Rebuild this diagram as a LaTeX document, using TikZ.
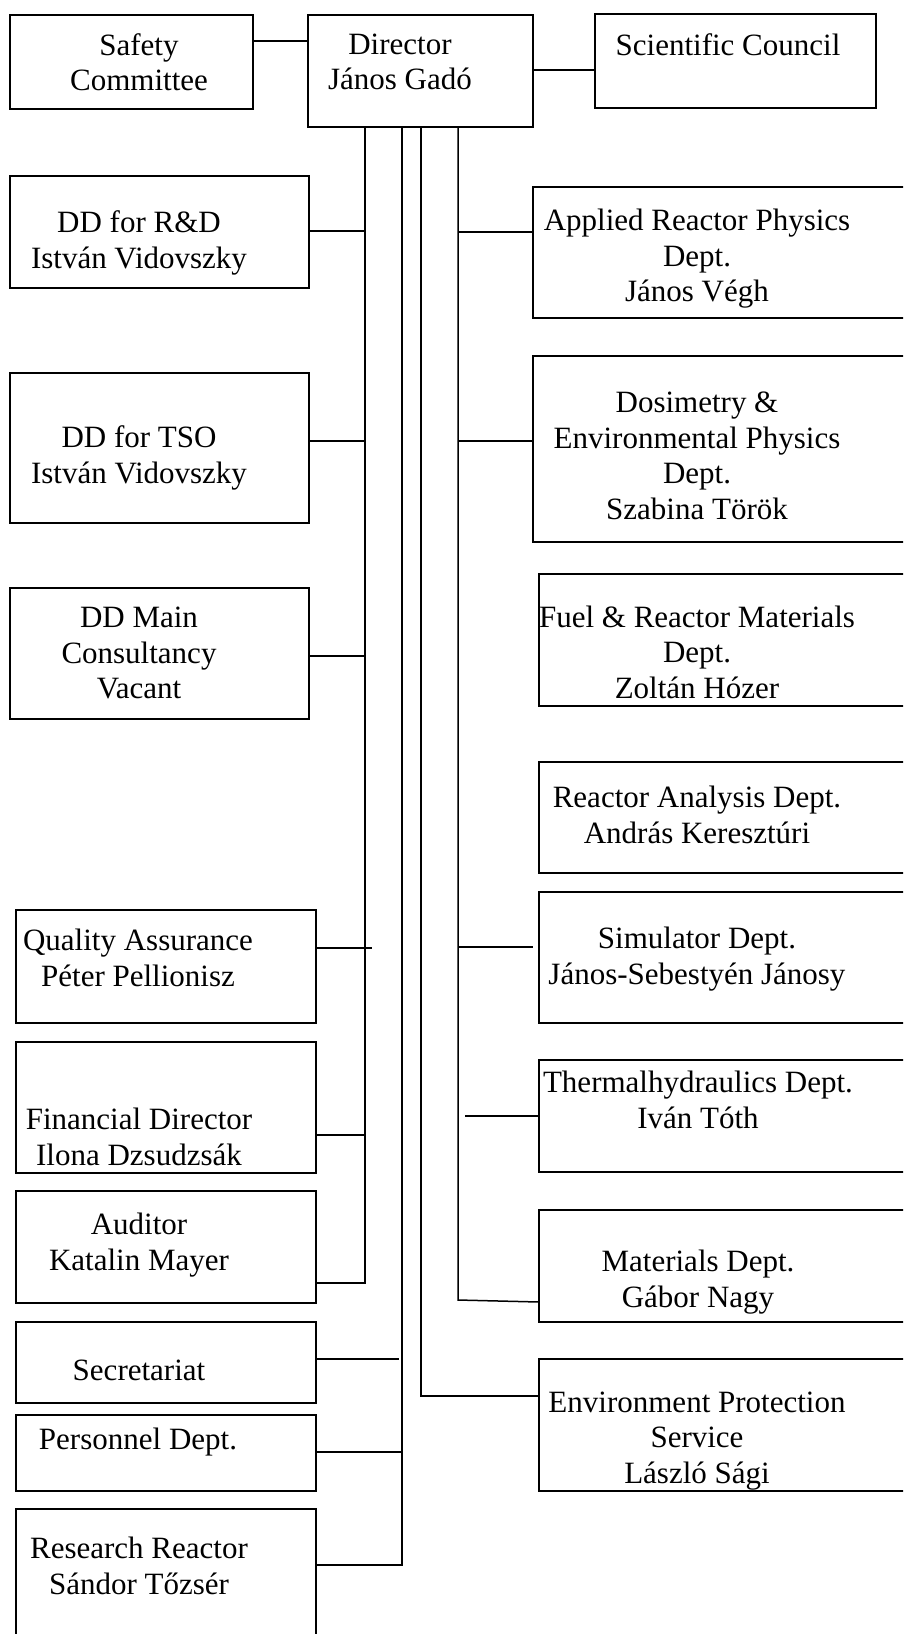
\documentclass[tikz,border=0pt]{standalone}
\usepackage{fontspec}
\setmainfont{Liberation Serif}
\begin{document}
\begin{tikzpicture}[x=1pt,y=1pt,
  box/.style={draw, line width=1.8pt, inner sep=0pt, outer sep=0pt, anchor=north west},
  txt/.style={font=\fontsize{31}{35.5}\selectfont, align=center, inner sep=0pt},
  link/.style={line width=1.5pt}]
\useasboundingbox (0,0) rectangle (903,-1634);
\clip (0,0) rectangle (903,-1634);
\fill[white] (0,0) rectangle (903,-1634);
% boxes
\node[box, minimum width=243pt, minimum height=94pt] (safety) at (10,-15) {};
\node[box, minimum width=225pt, minimum height=112pt] (director) at (308,-15) {};
\node[box, minimum width=281pt, minimum height=94pt] (sci) at (595,-14) {};
\node[box, minimum width=299pt, minimum height=112pt] (rd) at (10,-176) {};
\node[box, minimum width=400pt, minimum height=131pt] (applied) at (533,-187) {};
\node[box, minimum width=299pt, minimum height=150pt] (tso) at (10,-373) {};
\node[box, minimum width=400pt, minimum height=186pt] (dos) at (533,-356) {};
\node[box, minimum width=299pt, minimum height=131pt] (main) at (10,-588) {};
\node[box, minimum width=400pt, minimum height=132pt] (fuel) at (539,-574) {};
\node[box, minimum width=400pt, minimum height=111pt] (ra) at (539,-762) {};
\node[box, minimum width=300pt, minimum height=113pt] (qa) at (16,-910) {};
\node[box, minimum width=400pt, minimum height=131pt] (sim) at (539,-892) {};
\node[box, minimum width=300pt, minimum height=131pt] (fin) at (16,-1042) {};
\node[box, minimum width=400pt, minimum height=112pt] (th) at (539,-1060) {};
\node[box, minimum width=300pt, minimum height=112pt] (aud) at (16,-1191) {};
\node[box, minimum width=400pt, minimum height=112pt] (mat) at (539,-1210) {};
\node[box, minimum width=300pt, minimum height=81pt] (sec) at (16,-1322) {};
\node[box, minimum width=400pt, minimum height=132pt] (env) at (539,-1359) {};
\node[box, minimum width=300pt, minimum height=76pt] (per) at (16,-1415) {};
\node[box, minimum width=300pt, minimum height=160pt] (rr) at (16,-1509) {};
% texts
\node[txt] (safetyt) at (139,-62) {Safety\\Committee};
\node[txt] (directort) at (400,-62) {Director\\János Gadó};
\node[txt] (scit) at (728,-45) {Scientific Council};
\node[txt] (rdt) at (139,-243) {DD for R\&D\\István Vidovszky};
\node[txt] (appliedt) at (697,-259) {Applied Reactor Physics\\Dept.\\János Végh};
\node[txt] (tsot) at (139,-458) {DD for TSO\\István Vidovszky};
\node[txt] (dost) at (697,-456) {Dosimetry \&\\Environmental Physics\\Dept.\\Szabina Török};
\node[txt] (maint) at (139,-653) {DD Main\\Consultancy\\Vacant};
\node[txt] (fuelt) at (697,-652) {Fuel \& Reactor Materials\\Dept.\\Zoltán Hózer};
\node[txt] (rat) at (697,-815) {Reactor Analysis Dept.\\András Keresztúri};
\node[txt] (qat) at (138,-958) {Quality Assurance\\Péter Pellionisz};
\node[txt] (simt) at (697,-959) {Simulator Dept.\\János-Sebestyén Jánosy};
\node[txt] (fint) at (139,-1137) {Financial Director\\Ilona Dzsudzsák};
\node[txt] (tht) at (698,-1100) {Thermalhydraulics Dept.\\Iván Tóth};
\node[txt] (audt) at (139,-1245) {Auditor\\Katalin Mayer};
\node[txt] (matt) at (698,-1282) {Materials Dept.\\Gábor Nagy};
\node[txt] (sect) at (139,-1370) {Secretariat};
\node[txt] (envt) at (697,-1441) {Environment Protection\\Service\\László Sági};
\node[txt] (pert) at (138,-1442) {Personnel Dept.};
\node[txt] (rrt) at (139,-1566) {Research Reactor\\Sándor Tőzsér};
% trunk coordinates
\coordinate (ta) at (365,-1283);
\coordinate (tb) at (402,-1565);
\coordinate (tc) at (421,-1396);
\coordinate (td) at (458,-1300);
\coordinate (qaend) at (372,-948);
\coordinate (secend) at (399,-1359);
\coordinate (simend) at (533,-947);
\coordinate (thstart) at (465,-1116);
% top links
\draw[link] (safety.east |- 0,-41) -- (director.west |- 0,-41);
\draw[link] (director.east |- 0,-70) -- (sci.west |- 0,-70);
% trunks
\draw[link] (director.south -| ta) -- (ta) -- (aud.east |- ta);
\draw[link] (director.south -| tb) -- (tb) -- (rr.east |- tb);
\draw[link] (director.south -| tc) -- (tc) -- (env.west |- tc);
\draw[link] (director.south -| td) -- (td) -- (mat.west |- 0,-1302);
% left branches
\draw[link] (rd.east |- 0,-231) -- (ta |- 0,-231);
\draw[link] (tso.east |- 0,-441) -- (ta |- 0,-441);
\draw[link] (main.east |- 0,-656) -- (ta |- 0,-656);
\draw[link] (qa.east |- qaend) -- (qaend);
\draw[link] (fin.east |- 0,-1135) -- (ta |- 0,-1135);
\draw[link] (sec.east |- secend) -- (secend);
\draw[link] (per.east |- 0,-1452) -- (tb |- 0,-1452);
% right branches
\draw[link] (td |- 0,-232) -- (applied.west |- 0,-232);
\draw[link] (td |- 0,-441) -- (dos.west |- 0,-441);
\draw[link] (td |- simend) -- (simend);
\draw[link] (thstart) -- (th.west |- thstart);
\end{tikzpicture}
\end{document}
